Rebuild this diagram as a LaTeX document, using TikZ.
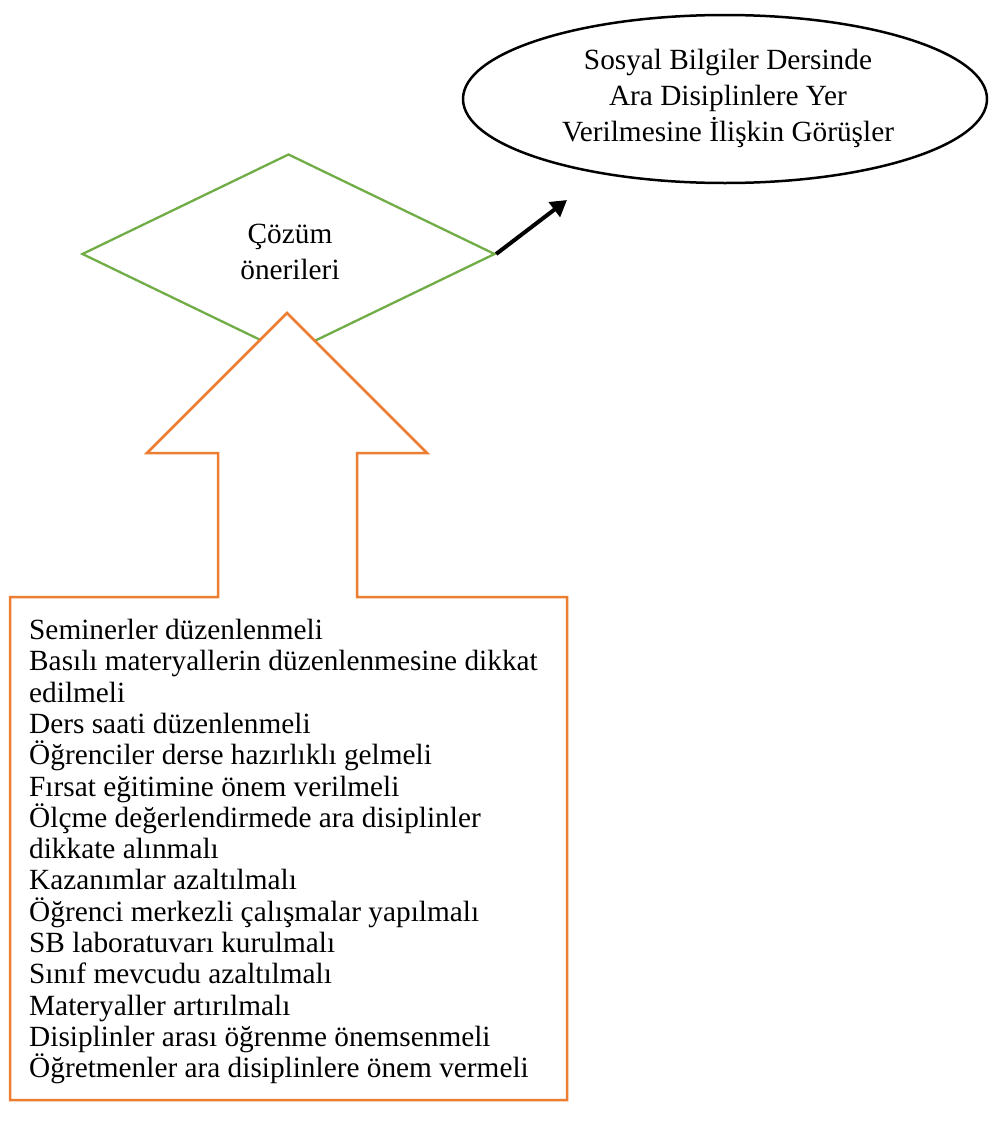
\documentclass[tikz,border=0pt]{standalone}
\usepackage{fontspec}
\setmainfont{Liberation Serif}
\usetikzlibrary{shapes.geometric,arrows.meta}
\definecolor{ogreen}{RGB}{112,173,71}
\definecolor{oorange}{RGB}{237,125,49}
\begin{document}
\begin{tikzpicture}[x=1pt,y=-1pt,
  txt/.style={font=\fontsize{29.3}{36}\selectfont, align=center, inner sep=0pt},
  elli/.style={ellipse, draw=black, line width=2.5pt, minimum width=524pt, minimum height=168pt, inner sep=0pt},
  dia/.style={diamond, draw=ogreen, line width=2.3pt, minimum width=413pt, minimum height=200pt, inner sep=0pt},
  orng/.style={draw=oorange, line width=2.5pt, fill=white, line join=miter},
  conn/.style={draw=black, line width=4pt, -{Triangle[length=16pt,width=18pt]}}
]
\useasboundingbox (0,0) rectangle (988,1127);
\node[elli] (goal) at (725,99) {};
\node[txt] (goaltext) at (728,98.5) {Sosyal Bilgiler Dersinde\\Ara Disiplinlere Yer\\Verilmesine İlişkin Görüşler};
\node[dia] (cozum) at (288.5,254) {};
\node[txt] (cozumtext) at (290,252) {Çözüm\\önerileri};
% orange up-arrow joined to the box
\path[orng] (218,597) -- (218,453) -- (147,453) -- (287,313) -- (427,453) -- (357,453) -- (357,597)
  -- (567,597) -- (567,1100) -- (10,1100) -- (10,597) -- cycle;
\draw[draw=white, line width=3pt] (220,597) -- (355,597);
\node[anchor=north west, align=left, inner sep=0pt, font=\fontsize{29.3}{31.3}\selectfont] (liste) at (29,619) {%
Seminerler düzenlenmeli\\
Basılı materyallerin düzenlenmesine dikkat\\
edilmeli\\
Ders saati düzenlenmeli\\
Öğrenciler derse hazırlıklı gelmeli\\
Fırsat eğitimine önem verilmeli\\
Ölçme değerlendirmede ara disiplinler\\
dikkate alınmalı\\
Kazanımlar azaltılmalı\\
Öğrenci merkezli çalışmalar yapılmalı\\
SB laboratuvarı kurulmalı\\
Sınıf mevcudu azaltılmalı\\
Materyaller artırılmalı\\
Disiplinler arası öğrenme önemsenmeli\\
Öğretmenler ara disiplinlere önem vermeli};
\coordinate (tip) at (567,200);
\draw[conn] (cozum.east) -- (tip);
\end{tikzpicture}
\end{document}
